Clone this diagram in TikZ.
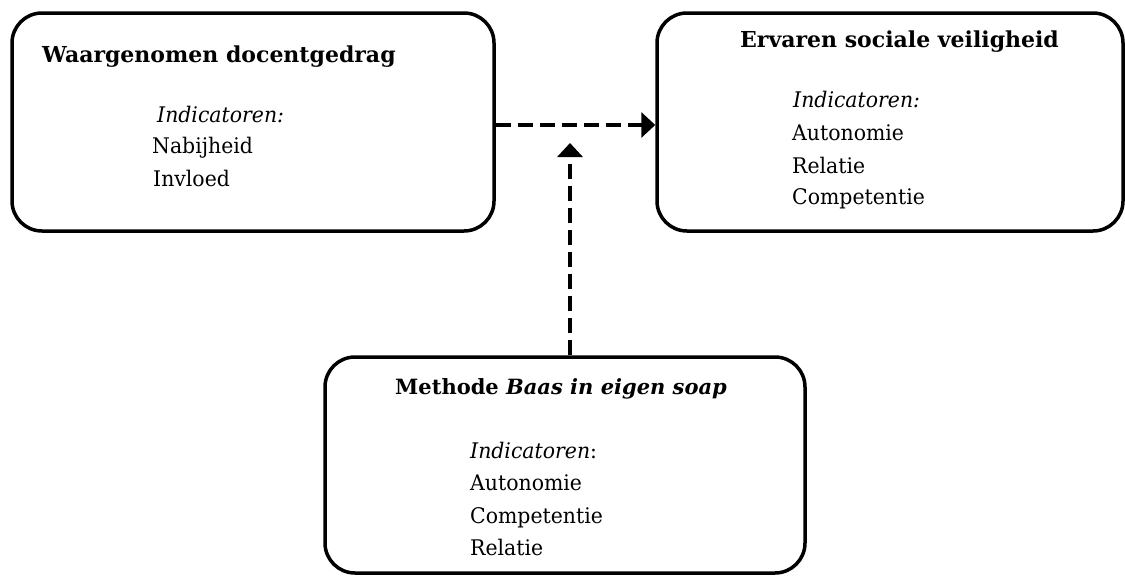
\documentclass[tikz,border=0pt]{standalone}
\usepackage{fontspec}
\setmainfont{DejaVu Serif}
\newfontfamily\regfont{DejaVu Serif}[FakeStretch=0.95]
\usetikzlibrary{arrows.meta}
\tikzset{
  box/.style={draw, line width=3.5pt, rounded corners=30pt, inner sep=0pt, fill=white},
  txt/.style={anchor=base west, inner sep=0pt, font=\regfont\fontsize{21.5}{24}\selectfont},
  ttl/.style={anchor=base west, inner sep=0pt, font=\fontsize{22}{26}\selectfont\bfseries},
  dasharrow/.style={line width=3.5pt, dash pattern=on 15pt off 7pt, -{Triangle[length=14pt,width=25pt]}}
}
\begin{document}
\begin{tikzpicture}[x=1pt,y=1pt]
\useasboundingbox (0,0) rectangle (1125,-576);
% boxes
\node[box, minimum width=482pt, minimum height=218pt] (b1) at (253,-122) {};
\node[box, minimum width=466pt, minimum height=218pt] (b2) at (890,-122) {};
\node[box, minimum width=480pt, minimum height=216pt] (b3) at (565,-465) {};
% box 1 texts
\node[ttl] (t1) at (42,-62) {Waargenomen docentgedrag};
\node[txt] (i1) at (157,-122) {\itshape Indicatoren:};
\node[txt] (n1) at (152,-153) {Nabijheid};
\node[txt] (n2) at (153,-186) {Invloed};
% box 2 texts
\node[ttl] (t2) at (740,-47) {Ervaren sociale veiligheid};
\node[txt] (i2) at (793,-107) {\itshape Indicatoren:};
\node[txt] (a2) at (792,-140) {Autonomie};
\node[txt] (r2) at (792,-173) {Relatie};
\node[txt] (c2) at (792,-204) {Competentie};
% box 3 texts
\node[ttl, font=\fontsize{21}{26}\selectfont\bfseries] (t3) at (395,-394) {Methode \textit{Baas in eigen soap}};
\node[txt] (i3) at (470,-458) {\textit{Indicatoren}:};
\node[txt] (a3) at (470,-490) {Autonomie};
\node[txt] (c3) at (470,-523) {Competentie};
\node[txt] (r3) at (470,-555) {Relatie};
% connectors
\coordinate (tip) at (570,-143);
\draw[dasharrow] ([yshift=-3pt]b1.east) -- ([yshift=-3pt]b2.west);
\draw[dasharrow] ([xshift=5pt]b3.north) -- (tip);
\end{tikzpicture}
\end{document}
